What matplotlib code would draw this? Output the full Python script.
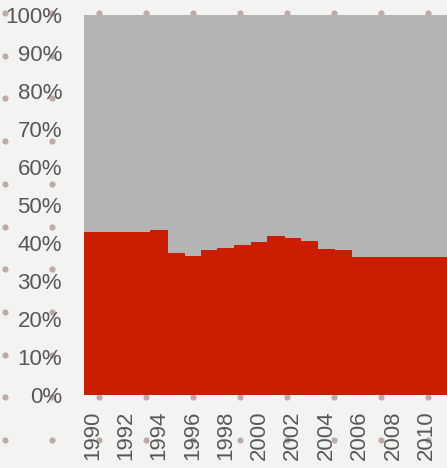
import numpy as np
import matplotlib.pyplot as plt

years = list(range(1990, 2012))
red_share = [42.9, 42.9, 42.9, 42.9, 43.4, 37.4, 36.6, 38.2, 38.8, 39.5, 40.3,
             41.8, 41.3, 40.6, 38.5, 38.2, 36.3, 36.3, 36.3, 36.3, 36.3, 36.3]
grey_share = [100 - v for v in red_share]
year_ticks = list(range(1990, 2011, 2))
pct_ticks = list(range(0, 101, 10))

red = '#cd1d00'
grey = '#b4b4b4'
text_col = '#585858'
bg = '#f3f3f2'

plt.rcParams['font.family'] = ['Liberation Sans', 'DejaVu Sans']

fig = plt.figure(figsize=(4.47, 4.68), dpi=100, facecolor=bg)

# dotted backdrop behind the chart
back = fig.add_axes([0, 0, 1, 1], zorder=0)
back.set_xlim(0, 447)
back.set_ylim(468, 0)
back.axis('off')
gx, gy = np.meshgrid(np.arange(5, 447, 47), np.arange(13, 468, 42.7))
back.scatter(gx.ravel(), gy.ravel(), s=20, marker='o', color='#bfaaa8',
             linewidths=0)

ax = fig.add_axes([84 / 447, 73 / 468, 367.4 / 447, 380 / 468], zorder=1)
ax.patch.set_alpha(0)
# slightly overlapping bars so no seams show between neighbours
ax.bar(years, grey_share, width=1.04, bottom=red_share, color=grey, linewidth=0)
ax.bar(years, red_share, width=1.04, color=red, linewidth=0)

ax.set_xlim(1989.5, 2011.5)
ax.set_ylim(0, 100)
ax.set_yticks(pct_ticks)
ax.set_yticklabels([f'{p}%' for p in pct_ticks])
ax.set_xticks(year_ticks)
ax.set_xticklabels([str(y) for y in year_ticks], rotation=90)
ax.tick_params(axis='y', length=0, pad=15.8, labelsize=16, labelcolor=text_col)
ax.tick_params(axis='x', length=0, pad=11, labelsize=16, labelcolor=text_col)
for s in ax.spines.values():
    s.set_visible(False)

fig.savefig('out.png', dpi=100, facecolor=bg)
